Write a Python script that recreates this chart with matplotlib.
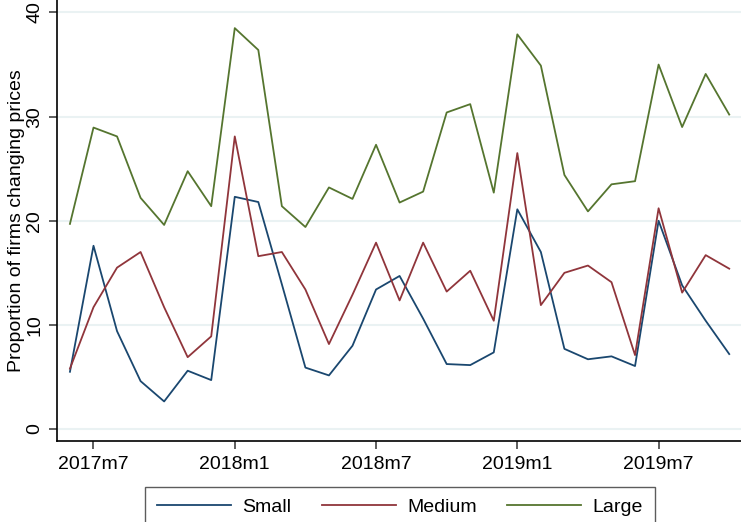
import numpy as np
import matplotlib.pyplot as plt

# monthly share of firms changing prices, 2017m6 - 2019m10
months = [f"{y}m{m}" for y in (2017, 2018, 2019) for m in range(1, 13)]
months = months[months.index("2017m6"):months.index("2019m10") + 1]

small = [5.5, 17.6, 9.4, 4.6, 2.65, 5.6, 4.7,
         22.3, 21.8, 13.9, 5.9, 5.15, 8.0, 13.4, 14.7, 10.6, 6.24, 6.14, 7.36,
         21.1, 17.0, 7.7, 6.7, 6.98, 6.05, 20.0, 13.8, 10.4, 7.2]
medium = [5.8, 11.7, 15.5, 17.0, 11.7, 6.9, 8.9,
          28.1, 16.6, 17.0, 13.4, 8.16, 12.9, 17.9, 12.35, 17.9, 13.2, 15.2, 10.4,
          26.5, 11.9, 15.0, 15.7, 14.1, 7.1, 21.2, 13.1, 16.7, 15.4]
large = [19.7, 28.95, 28.1, 22.2, 19.6, 24.76, 21.4,
         38.5, 36.4, 21.4, 19.4, 23.2, 22.1, 27.3, 21.75, 22.8, 30.4, 31.2, 22.7,
         37.9, 34.9, 24.4, 20.9, 23.5, 23.8, 35.0, 29.0, 34.1, 30.2]

tick_labels = ["2017m7", "2018m1", "2018m7", "2019m1", "2019m7"]
y_ticks = [0, 10, 20, 30, 40]

plt.rcParams['font.family'] = ['Liberation Sans', 'DejaVu Sans']
fs = 14

fig = plt.figure(figsize=(7.41, 5.22), dpi=100)
ax = fig.add_axes([57 / 741, 1 - 440.7 / 522, 1 - 57 / 741, 440.7 / 522])

x = np.arange(len(months))
ax.plot(x, small, color='#1a476f', lw=1.3, label='Small')
ax.plot(x, medium, color='#90353b', lw=1.3, label='Medium')
ax.plot(x, large, color='#55752f', lw=1.3, label='Large')

ax.set_xlim(-0.55, len(months) - 0.5)
ax.set_ylim(-1.12, 41.2)

ax.set_xticks([months.index(t) for t in tick_labels])
ax.set_xticklabels(tick_labels, fontsize=fs)
ax.set_yticks(y_ticks)
ax.set_yticklabels([str(v) for v in y_ticks], fontsize=fs, rotation=90, va='center')

ax.grid(axis='y', color='#eaf2f3', lw=1.5)
ax.set_axisbelow(True)
ax.spines['top'].set_visible(False)
ax.spines['right'].set_visible(False)
for s in ('left', 'bottom'):
    ax.spines[s].set_linewidth(1.2)
ax.tick_params(axis='both', length=6, width=1.1, color='#333333')
ax.tick_params(axis='x', pad=5)
ax.tick_params(axis='y', pad=4)

ax.set_ylabel('Proportion of firms changing prices', fontsize=fs, labelpad=1)

leg = fig.legend(loc='upper center', bbox_to_anchor=(400 / 741, 1 - 487 / 522),
                 ncol=3, fontsize=fs, frameon=True, fancybox=False,
                 handlelength=3.8, handletextpad=0.6, columnspacing=1.55,
                 borderpad=0.6, borderaxespad=0)
leg.get_frame().set_edgecolor('#333333')
leg.get_frame().set_linewidth(1.0)

fig.savefig('out.png', dpi=100)
